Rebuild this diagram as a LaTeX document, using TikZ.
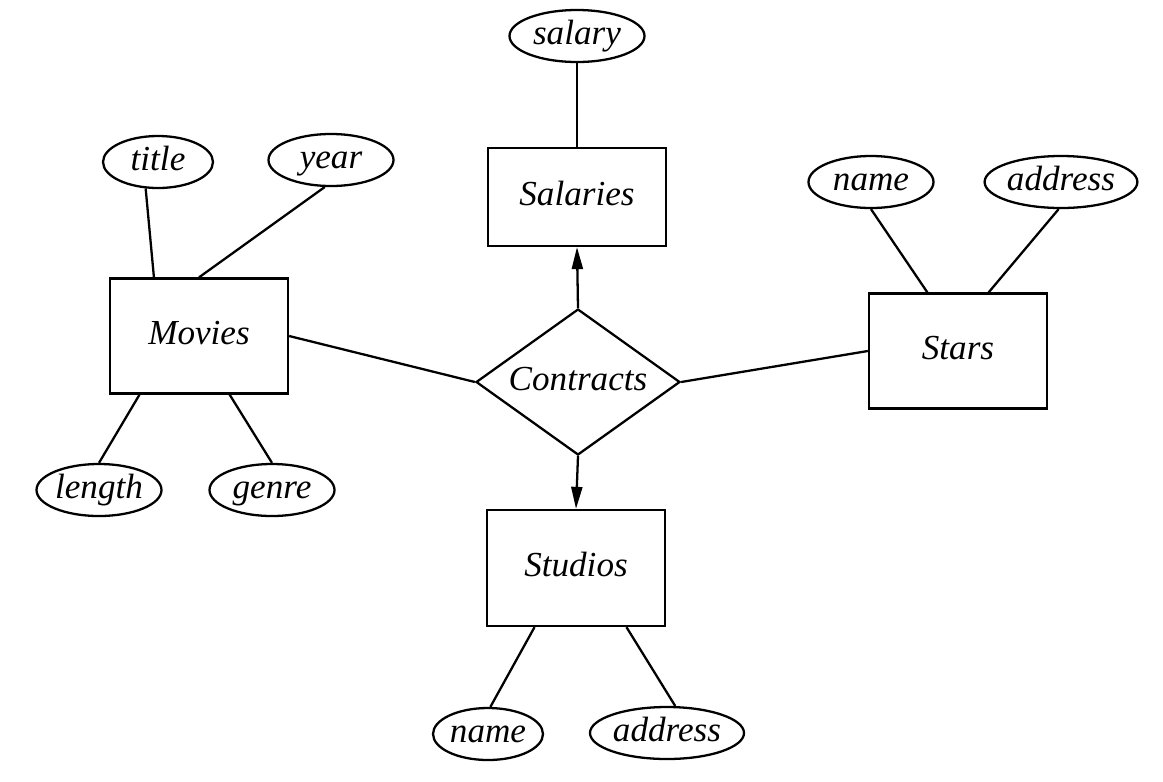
\documentclass[tikz,border=0pt]{standalone}
\usepackage{fontspec}
\setmainfont{Liberation Serif}
\usetikzlibrary{calc,shapes.geometric,arrows.meta}

\tikzset{
  every node/.style={font=\fontsize{10}{12}\selectfont\itshape, text height=0.7em, text depth=0.22em},
  entity/.style={draw, rectangle, minimum width=1.78cm, minimum height=1.15cm, inner sep=0pt},
  attr/.style={draw, ellipse, minimum width=1.25cm, minimum height=0.52cm, inner sep=0pt},
  rel/.style={draw, diamond, aspect=1.4, minimum width=2.04cm, minimum height=1.46cm, inner sep=0pt},
  tip/.style={-{Triangle[length=2.2mm,width=1.1mm]}}
}

\begin{document}
\begin{tikzpicture}[line width=0.65pt]
\useasboundingbox (0,0) rectangle (11.63,7.81);

% entity sets
\node[entity, minimum height=0.98cm] (Salaries) at (5.77,5.84) {Salaries};
\node[entity] (Movies) at (1.99,4.45) {Movies};
\node[entity] (Stars) at (9.58,4.30) {Stars};
\node[entity, minimum height=1.16cm] (Studios) at (5.76,2.13) {Studios};

% relationship
\node[rel] (Contracts) at (5.78,3.99) {Contracts};

% attributes
\node[attr, minimum width=1.35cm] (salary) at (5.77,7.45) {salary};
\node[attr, minimum width=1.1cm] (title) at (1.58,6.19) {title};
\node[attr] (year) at (3.31,6.21) {year};
\node[attr] (length) at (0.99,2.91) {length};
\node[attr] (genre) at (2.72,2.91) {genre};
\node[attr] (sname) at (8.71,5.99) {name};
\node[attr, minimum width=1.52cm] (saddress) at (10.61,5.99) {address};
\node[attr, minimum width=1.1cm] (dname) at (4.88,0.47) {name};
\node[attr, minimum width=1.54cm] (daddress) at (6.67,0.48) {address};

% attribute links
\draw (salary.south) -- (Salaries.north);
\draw (title.245) -- ($(Movies.north west)!0.25!(Movies.north east)$);
\draw (year.257) -- (Movies.north);
\draw (length.north) -- ($(Movies.south west)!0.17!(Movies.south east)$);
\draw (genre.north) -- ($(Movies.south west)!0.67!(Movies.south east)$);
\draw (sname.south) -- ($(Stars.north west)!0.33!(Stars.north east)$);
\draw (saddress.265) -- ($(Stars.north west)!0.67!(Stars.north east)$);
\draw (dname.85) -- ($(Studios.south west)!0.27!(Studios.south east)$);
\draw (daddress.73) -- ($(Studios.south west)!0.78!(Studios.south east)$);

% relationship links
\draw (Movies.east) -- (Contracts.west);
\draw (Contracts.east) -- (Stars.west);
\draw[tip] (Contracts.north) -- (Salaries.south);
\draw[tip] (Contracts.south) -- (Studios.north);
\end{tikzpicture}
\end{document}
